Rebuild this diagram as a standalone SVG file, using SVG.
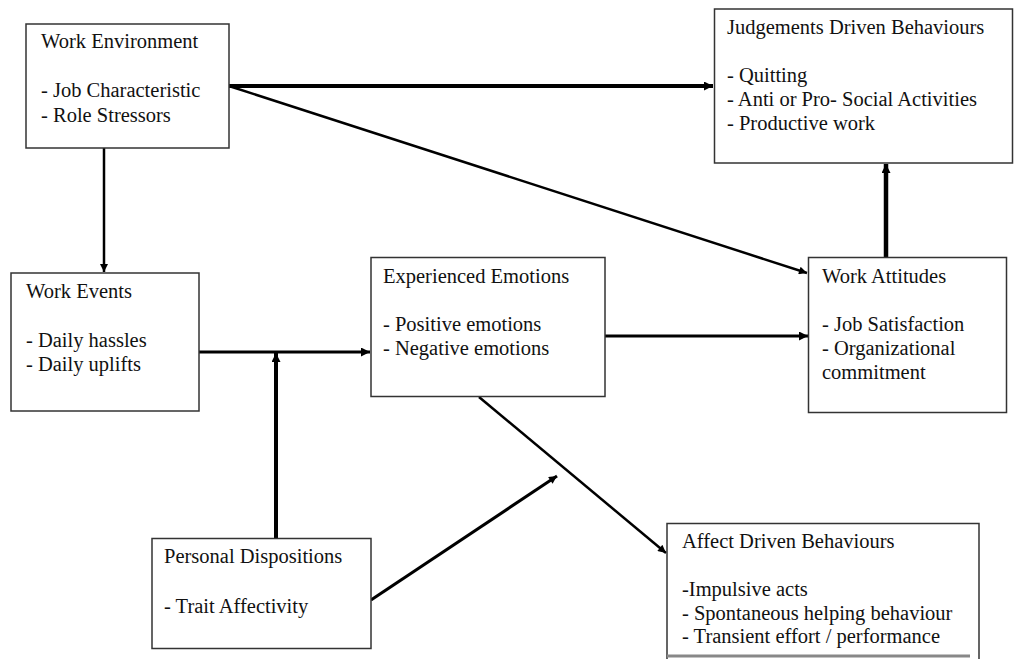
<svg xmlns="http://www.w3.org/2000/svg" width="1015" height="659" viewBox="0 0 1015 659">
<defs>
<style>
.box{fill:#fff;stroke:#333;stroke-width:1.5}
.t{font-family:'Liberation Serif','Times New Roman','DejaVu Serif',serif;font-size:20.5px;fill:#111}
.c{stroke:#000;fill:none}
</style>
<marker id="ah" viewBox="0 0 10 10" refX="10" refY="5" markerWidth="11" markerHeight="9" markerUnits="userSpaceOnUse" orient="auto">
<path d="M0,0 L10,5 L0,10 z" fill="#000"/>
</marker>
<marker id="ahs" viewBox="0 0 10 10" refX="10" refY="5" markerWidth="10" markerHeight="8" markerUnits="userSpaceOnUse" orient="auto">
<path d="M0,0 L10,5 L0,10 z" fill="#000"/>
</marker>
</defs>
<rect width="1015" height="659" fill="#fff"/>
<g id="connectors">
<line class="c" x1="229" y1="86" x2="713" y2="86" stroke-width="4" marker-end="url(#ah)"/>
<line class="c" x1="229" y1="86" x2="807" y2="273" stroke-width="2.5" marker-end="url(#ahs)"/>
<line class="c" x1="104" y1="148" x2="104" y2="272" stroke-width="2.5" marker-end="url(#ahs)"/>
<line class="c" x1="199" y1="352" x2="370" y2="352" stroke-width="3" marker-end="url(#ah)"/>
<line class="c" x1="276" y1="538" x2="276" y2="353" stroke-width="4" marker-end="url(#ah)"/>
<line class="c" x1="605" y1="336" x2="808" y2="336" stroke-width="3" marker-end="url(#ah)"/>
<line class="c" x1="886" y1="257" x2="886" y2="164" stroke-width="4.5" marker-end="url(#ah)"/>
<line class="c" x1="479" y1="397" x2="666" y2="553" stroke-width="2.5" marker-end="url(#ahs)"/>
<line class="c" x1="371" y1="600" x2="557" y2="476" stroke-width="3" marker-end="url(#ahs)"/>
</g>
<g id="work-environment" font-family="Liberation Serif, serif">
<rect class="box" x="26" y="24" width="203" height="124"/>
<text class="t" x="41" y="48">Work Environment</text>
<text class="t" x="41" y="97">- Job Characteristic</text>
<text class="t" x="41" y="122">- Role Stressors</text>
</g>
<g id="judgements-driven-behaviours">
<rect class="box" x="714.5" y="9" width="298" height="154"/>
<text class="t" x="727" y="34">Judgements Driven Behaviours</text>
<text class="t" x="727" y="82">- Quitting</text>
<text class="t" x="727" y="106">- Anti or Pro- Social Activities</text>
<text class="t" x="727" y="130">- Productive work</text>
</g>
<g id="work-events">
<rect class="box" x="11" y="273" width="188" height="138"/>
<text class="t" x="26" y="298">Work Events</text>
<text class="t" x="26" y="347">- Daily hassles</text>
<text class="t" x="26" y="371">- Daily uplifts</text>
</g>
<g id="experienced-emotions">
<rect class="box" x="371" y="257.5" width="234" height="139"/>
<text class="t" x="383" y="283">Experienced Emotions</text>
<text class="t" x="383" y="331">- Positive emotions</text>
<text class="t" x="383" y="355">- Negative emotions</text>
</g>
<g id="work-attitudes">
<rect class="box" x="808.5" y="257.5" width="198" height="155"/>
<text class="t" x="822" y="283">Work Attitudes</text>
<text class="t" x="822" y="331">- Job Satisfaction</text>
<text class="t" x="822" y="355">- Organizational</text>
<text class="t" x="822" y="379">commitment</text>
</g>
<g id="personal-dispositions">
<rect class="box" x="152" y="538.5" width="219" height="110"/>
<text class="t" x="164" y="563">Personal Dispositions</text>
<text class="t" x="164" y="613">- Trait Affectivity</text>
</g>
<g id="affect-driven-behaviours">
<path class="box" d="M667,662 L667,523.5 L979,523.5 L979,662"/>
<line x1="667" y1="656" x2="970" y2="656" stroke="#888" stroke-width="3"/>
<text class="t" x="682" y="548">Affect Driven Behaviours</text>
<text class="t" x="682" y="596">-Impulsive acts</text>
<text class="t" x="682" y="620">- Spontaneous helping behaviour</text>
<text class="t" x="682" y="643">- Transient effort / performance</text>
</g>
</svg>
